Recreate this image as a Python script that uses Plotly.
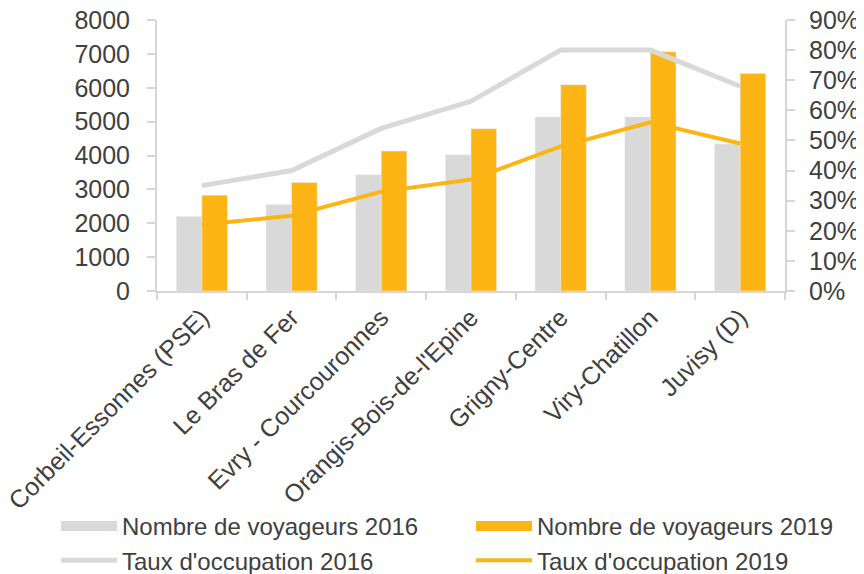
import plotly.graph_objects as go

gares = ["Corbeil-Essonnes (PSE)", "Le Bras de Fer", "Evry - Courcouronnes",
         "Orangis-Bois-de-l'Epine", "Grigny-Centre", "Viry-Chatillon", "Juvisy (D)"]
voyageurs_2016 = [2200, 2550, 3430, 4020, 5140, 5140, 4340]
voyageurs_2019 = [2830, 3200, 4130, 4790, 6090, 7060, 6420]
taux_2016 = [0.35, 0.40, 0.54, 0.63, 0.80, 0.80, 0.68]
taux_2019 = [0.22, 0.25, 0.33, 0.37, 0.48, 0.56, 0.49]

gris = "#d9d9d9"
orange = "#fdb515"
axe = "#d9d5d2"
texte = "#404040"

fig = go.Figure()
fig.add_trace(go.Bar(x=gares, y=voyageurs_2016, name="Nombre de voyageurs 2016",
                     marker_color=gris, legendgroup="b16", showlegend=False))
fig.add_trace(go.Bar(x=gares, y=voyageurs_2019, name="Nombre de voyageurs 2019",
                     marker_color=orange, legendgroup="b19", showlegend=False))
fig.add_trace(go.Scatter(x=gares, y=taux_2016, name="Taux d'occupation 2016",
                         mode="lines", line=dict(color=gris, width=5), yaxis="y2",
                         legend="legend"))
fig.add_trace(go.Scatter(x=gares, y=taux_2019, name="Taux d'occupation 2019",
                         mode="lines", line=dict(color=orange, width=4), yaxis="y2",
                         legend="legend2"))

# entrées de légende des barres : rectangles larges comme dans Excel
fig.add_trace(go.Scatter(x=[None], y=[None], mode="lines", name="Nombre de voyageurs 2016",
                         line=dict(color=gris, width=14), legendgroup="b16",
                         legend="legend", legendrank=1))
fig.add_trace(go.Scatter(x=[None], y=[None], mode="lines", name="Nombre de voyageurs 2019",
                         line=dict(color=orange, width=14), legendgroup="b19",
                         legend="legend2", legendrank=1))

leg = dict(orientation="v", xanchor="left", yanchor="top", y=-0.786,
           itemwidth=56, font=dict(size=24, color=texte), traceorder="normal",
           bgcolor="rgba(0,0,0,0)")

# la page a une marge de 8 px : la figure fait 856x566
fig.update_layout(
    width=856, height=566,
    margin=dict(l=149, r=79, t=12, b=283, autoexpand=False),
    paper_bgcolor="white", plot_bgcolor="white",
    font=dict(family="Liberation Sans, Arial, sans-serif", size=25, color=texte),
    barmode="group", bargap=0.43, bargroupgap=0,
    xaxis=dict(showline=True, linecolor=axe, linewidth=2, ticks="outside",
               tickson="boundaries", ticklen=7, tickcolor=axe, tickwidth=2,
               tickangle=-45, showgrid=False, ticklabeloverflow="allow"),
    yaxis=dict(range=[0, 8000], dtick=1000, showline=True, linecolor=axe,
               linewidth=2, ticks="outside", ticklen=8, tickcolor=axe,
               tickwidth=2, showgrid=False, zeroline=False,
               ticklabelstandoff=12, ticklabeloverflow="allow"),
    yaxis2=dict(range=[0, 0.9], dtick=0.1, tickformat=".0%", overlaying="y",
                side="right", showline=True, linecolor=axe, linewidth=2,
                ticks="outside", ticklen=8, tickcolor=axe, tickwidth=2,
                showgrid=False, zeroline=False, ticklabelstandoff=9,
                ticklabeloverflow="allow"),
    legend=dict(leg, x=-0.1608),
    legend2=dict(leg, x=0.5),
)

fig.write_html("out.html")
